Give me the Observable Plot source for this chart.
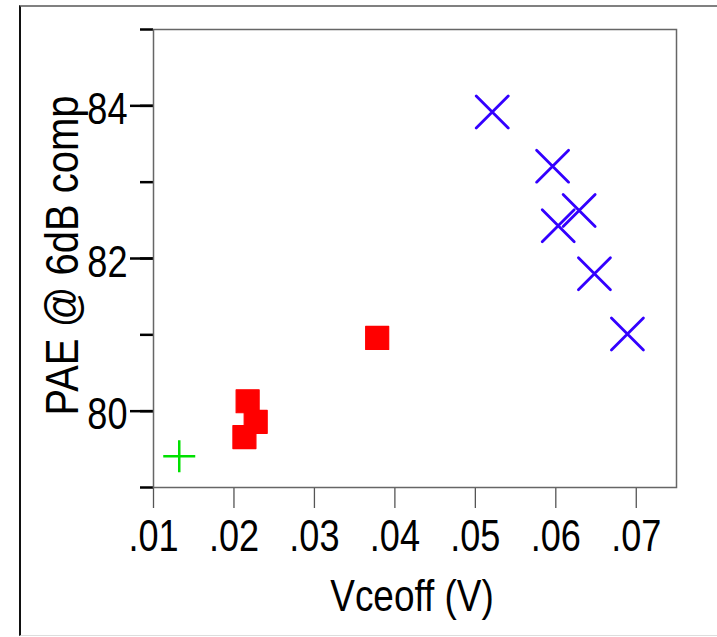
<!DOCTYPE html>
<html><head><meta charset="utf-8">
<script src="https://cdn.jsdelivr.net/npm/d3@7"></script>
<script src="https://cdn.jsdelivr.net/npm/@observablehq/plot@0.6"></script>
<style>
html,body{margin:0;padding:0;background:#fff;}
#wrap{position:relative;width:717px;height:637px;overflow:hidden;}
#border{position:absolute;left:19px;top:5px;width:710px;height:631px;border-top:2px solid #808080;border-left:2px solid #111;border-bottom:1px solid #ddd;box-sizing:border-box;}
#chart{position:absolute;left:0;top:0;}
</style></head><body>
<div id="wrap"><div id="border"></div><div id="chart"></div></div>
<script>
// ---- data ----
const xTitle = "Vceoff (V)";
const yTitle = "PAE @ 6dB comp";
const xTickValues = [0.01, 0.02, 0.03, 0.04, 0.05, 0.06, 0.07];
const yMinorTicks = [79, 80, 81, 82, 83, 84, 85];
const yLabeledTicks = [80, 82, 84];
const xDomain = [0.01, 0.075];
const yDomain = [79, 85];

const greenX = [0.0132];
const greenY = [79.41];
const redX = [0.0217, 0.0227, 0.0213, 0.0378];
const redY = [80.13, 79.86, 79.66, 80.96];
const blueX = [0.0521, 0.0596, 0.0629, 0.0603, 0.0648, 0.0689];
const blueY = [83.92, 83.21, 82.63, 82.43, 81.80, 81.01];

const toPts = (xs, ys) => xs.map((x, i) => ({x, y: ys[i]}));
const green = toPts(greenX, greenY);
const red = toPts(redX, redY);
const blue = toPts(blueX, blueY);

// ---- symbols ----
const plusSym = {draw(ctx, size) { const r = Math.sqrt(size / Math.PI); ctx.moveTo(-r, 0); ctx.lineTo(r, 0); ctx.moveTo(0, -r); ctx.lineTo(0, r); }};
const timesSym = {draw(ctx, size) { const r = Math.sqrt(size / Math.PI); ctx.moveTo(-r, -r); ctx.lineTo(r, r); ctx.moveTo(-r, r); ctx.lineTo(r, -r); }};
const squareSym = {draw(ctx, size) { const r = Math.sqrt(size / Math.PI); ctx.rect(-r, -r, 2 * r, 2 * r); }};

const FONT = "'Liberation Sans', Arial, sans-serif";
const fmt = d => d3.format(".2f")(d).replace(/^0/, "");

const chart = Plot.plot({
  width: 717, height: 637,
  marginLeft: 153, marginRight: 41, marginTop: 29, marginBottom: 150,
  style: {fontFamily: FONT, color: "#000", background: "transparent", overflow: "visible"},
  x: {domain: xDomain},
  y: {domain: yDomain},
  marks: [
    Plot.axisY({ticks: yMinorTicks, tickSize: 13, tickFormat: () => "", stroke: "#000", strokeWidth: 2.5, label: null}),
    Plot.axisY({ticks: yLabeledTicks, tickSize: 23, tickFormat: () => "", stroke: "#000", strokeWidth: 2.5, label: null}),
    Plot.axisY({ticks: yLabeledTicks, tickSize: 0, tickPadding: 26, dy: 4, fontSize: 44, fill: "#000", tickFormat: d => String(d), label: null}),
    Plot.axisX({ticks: xTickValues, tickSize: 21, tickPadding: 11, tickFormat: fmt, fontSize: 44, stroke: "#555", strokeWidth: 1.3, fill: "#000", label: null}),
    Plot.frame({stroke: "#666", strokeWidth: 1.5}),
    Plot.dot(green, {x: "x", y: "y", symbol: plusSym, r: 16, fill: "none", stroke: "#00e000", strokeWidth: 2.5}),
    Plot.dot(red, {x: "x", y: "y", symbol: squareSym, r: 11.5, fill: "#ff0000", stroke: "#ff0000", strokeWidth: 1.2, strokeLinejoin: "round"}),
    Plot.dot(blue, {x: "x", y: "y", symbol: timesSym, r: 16, fill: "none", stroke: "#3300ff", strokeWidth: 2.8, strokeLinecap: "round"}),
    Plot.text([xTitle], {text: d => d, frameAnchor: "bottom", textAnchor: "middle", dx: -3, dy: 123, lineAnchor: "bottom", fontSize: 45, fill: "#000"}),
    Plot.text([yTitle], {text: d => d, frameAnchor: "left", textAnchor: "middle", rotate: -90, dx: -76, dy: -3, lineAnchor: "bottom", fontSize: 46, fill: "#000", className: "ytitle"})
  ]
});
document.getElementById("chart").appendChild(chart);
// condense glyphs horizontally (narrow face like the original)
chart.querySelectorAll("text").forEach(el => {
  if (!el.textContent) return;
  const w = el.getComputedTextLength();
  const k = el.textContent === yTitle ? 0.87 : 0.82;
  if (w > 0) {
    el.setAttribute("textLength", (w * k).toFixed(2));
    el.setAttribute("lengthAdjust", "spacingAndGlyphs");
  }
});
</script>
</body></html>
